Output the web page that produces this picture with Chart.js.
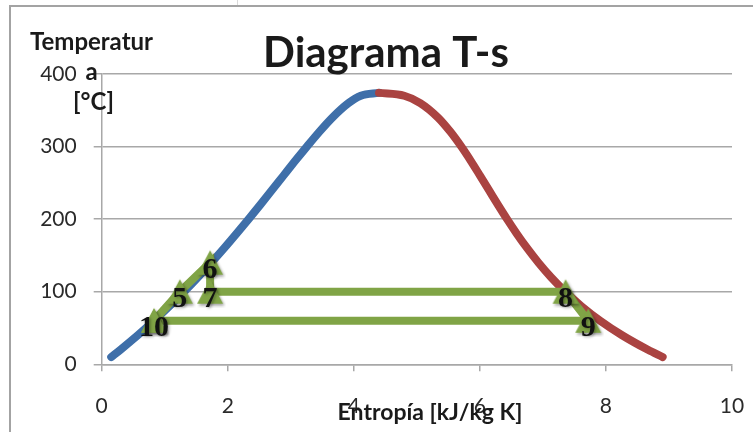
<!DOCTYPE html>
<html>
<head>
<meta charset="utf-8">
<script src="https://cdn.jsdelivr.net/npm/chart.js@4.4.1/dist/chart.umd.min.js"></script>
<style>
  html, body { margin: 0; padding: 0; background: #ffffff; }
  #wrap { width: 753px; height: 432px; position: relative; }
</style>
</head>
<body>
<div id="wrap"><canvas id="chart" width="753" height="432"></canvas></div>
<script>
// Saturated liquid line (temperature in °C, entropy in kJ/kg K)
const liquidTemps = [10, 20, 40, 60, 80, 100, 120, 140, 160, 180, 200, 220, 240, 260, 280, 300, 320, 340, 360, 370, 374];
const liquidS     = [0.151, 0.296, 0.572, 0.831, 1.075, 1.307, 1.528, 1.739, 1.943, 2.139, 2.331, 2.518, 2.702, 2.884, 3.067, 3.255, 3.449, 3.660, 3.917, 4.111, 4.40];

// Saturated vapour line, from the critical point downwards
const vapourTemps = [374, 370, 360, 340, 320, 300, 280, 260, 240, 220, 200, 180, 160, 140, 120, 100, 80, 60, 40, 20, 10];
const vapourS     = [4.40, 4.80, 5.054, 5.336, 5.536, 5.705, 5.858, 6.002, 6.144, 6.285, 6.431, 6.585, 6.750, 6.930, 7.129, 7.355, 7.611, 7.908, 8.256, 8.666, 8.900];

// Cycle states 10 → 5 → 6 → 7 → 8 → 9 → 10
const cycleS      = [0.83, 1.24, 1.72, 1.72, 7.36, 7.72, 0.83];
const cycleT      = [60, 100, 140, 100, 100, 60, 60];
const cycleLabels = ['10', '5', '6', '7', '8', '9', ''];

// Axis ticks
const xTicks = [0, 2, 4, 6, 8, 10];
const yTicks = [0, 100, 200, 300, 400];

const BLUE  = '#3f6fa9';
const RED   = '#aa4341';
const GREEN = '#80a446';
const GRID  = '#a8a8a8';

function toPoints(xs, ys) {
  return xs.map((x, i) => ({ x: x, y: ys[i] }));
}

// Triangle marker with a soft drop shadow
function makeTriangle(color) {
  const c = document.createElement('canvas');
  c.width = 32; c.height = 32;
  const g = c.getContext('2d');
  g.shadowColor = 'rgba(0,0,0,0.35)';
  g.shadowBlur = 3;
  g.shadowOffsetX = 1.5;
  g.shadowOffsetY = 2;
  g.fillStyle = color;
  g.beginPath();
  g.moveTo(16, 3.5);
  g.lineTo(29, 28);
  g.lineTo(3, 28);
  g.closePath();
  g.fill();
  return c;
}
const triangle = makeTriangle(GREEN);

// Frame around the whole chart
const framePlugin = {
  id: 'frame',
  beforeDraw(chart) {
    const ctx = chart.ctx;
    ctx.save();
    ctx.fillStyle = '#ffffff';
    ctx.fillRect(0, 0, chart.width, chart.height);
    ctx.strokeStyle = '#dadada';
    ctx.lineWidth = 1;
    ctx.beginPath();
    ctx.moveTo(237.5, 0);
    ctx.lineTo(237.5, 5);
    ctx.stroke();
    ctx.strokeStyle = '#a3a3a3';
    ctx.lineWidth = 2;
    ctx.strokeRect(10, 6, chart.width + 20, chart.height + 20);
    ctx.restore();
  }
};

// Numbers of the cycle states
const stateLabelPlugin = {
  id: 'stateLabels',
  afterDatasetsDraw(chart) {
    const meta = chart.getDatasetMeta(0);
    const ctx = chart.ctx;
    ctx.save();
    ctx.font = 'bold 30px "Liberation Serif", "DejaVu Serif", serif';
    ctx.textAlign = 'center';
    ctx.textBaseline = 'alphabetic';
    ctx.fillStyle = '#111111';
    ctx.shadowColor = 'rgba(0,0,0,0.35)';
    ctx.shadowBlur = 3;
    ctx.shadowOffsetX = 1.5;
    ctx.shadowOffsetY = 1.5;
    meta.data.forEach((pt, i) => {
      const label = cycleLabels[i];
      if (!label) return;
      ctx.fillText(label, pt.x, pt.y + 15);
    });
    ctx.restore();
  }
};

// Chart title and axis titles
const titlesPlugin = {
  id: 'titles',
  afterDraw(chart) {
    const ctx = chart.ctx;
    ctx.save();
    ctx.fillStyle = '#1a1a1a';
    ctx.textAlign = 'center';
    ctx.textBaseline = 'alphabetic';

    ctx.font = 'bold 42px Lato, sans-serif';
    ctx.fillText('Diagrama T-s', 386, 67);

    ctx.font = 'bold 24px Lato, sans-serif';
    ctx.fillText('Temperatur', 91.5, 50);
    ctx.fillText('a', 91.5, 80);
    ctx.fillText('[°C]', 93.5, 110);

    ctx.font = 'bold 23px Lato, sans-serif';
    ctx.fillText('Entropía [kJ/kg K]', 430, 420);
    ctx.restore();
  }
};

Chart.defaults.font.family = 'Lato, sans-serif';

new Chart(document.getElementById('chart'), {
  type: 'scatter',
  data: {
    datasets: [
      {
        label: 'Ciclo',
        data: toPoints(cycleS, cycleT),
        showLine: true,
        borderColor: GREEN,
        backgroundColor: GREEN,
        borderWidth: 8,
        borderJoinStyle: 'miter',
        tension: 0,
        pointStyle: triangle,
        pointRadius: 13,
        pointHoverRadius: 13
      },
      {
        label: 'Vapor saturado',
        data: toPoints(vapourS, vapourTemps),
        showLine: true,
        borderColor: RED,
        backgroundColor: RED,
        borderWidth: 8,
        borderCapStyle: 'round',
        cubicInterpolationMode: 'monotone',
        pointRadius: 0,
        pointHoverRadius: 0
      },
      {
        label: 'Líquido saturado',
        data: toPoints(liquidS, liquidTemps),
        showLine: true,
        borderColor: BLUE,
        backgroundColor: BLUE,
        borderWidth: 8,
        borderCapStyle: 'round',
        cubicInterpolationMode: 'monotone',
        pointRadius: 0,
        pointHoverRadius: 0
      }
    ]
  },
  options: {
    responsive: false,
    animation: false,
    events: [],
    layout: { padding: { top: 74, right: 20, left: 0, bottom: 0 } },
    plugins: {
      legend: { display: false },
      title: { display: false },
      tooltip: { enabled: false }
    },
    scales: {
      x: {
        type: 'linear',
        min: 0,
        max: 10,
        afterBuildTicks(scale) { scale.ticks = xTicks.map(v => ({ value: v })); },
        afterFit(scale) { scale.height = 67.7; },
        grid: { drawOnChartArea: false, drawTicks: true, tickLength: 7, color: GRID, lineWidth: 1.5 },
        border: { display: true, color: GRID, width: 1.5 },
        ticks: { color: '#2a2a2a', font: { size: 21, lineHeight: 2.8 }, padding: 6, maxRotation: 0 }
      },
      y: {
        type: 'linear',
        min: 0,
        max: 400,
        afterBuildTicks(scale) { scale.ticks = yTicks.map(v => ({ value: v })); },
        afterFit(scale) { scale.width = 101.7; },
        grid: { drawOnChartArea: true, drawTicks: true, tickLength: 8, color: GRID, lineWidth: 1.5 },
        border: { display: true, color: GRID, width: 1.5 },
        ticks: { color: '#2a2a2a', font: { size: 21 }, padding: 17 }
      }
    }
  },
  plugins: [framePlugin, stateLabelPlugin, titlesPlugin]
});
</script>
</body>
</html>
